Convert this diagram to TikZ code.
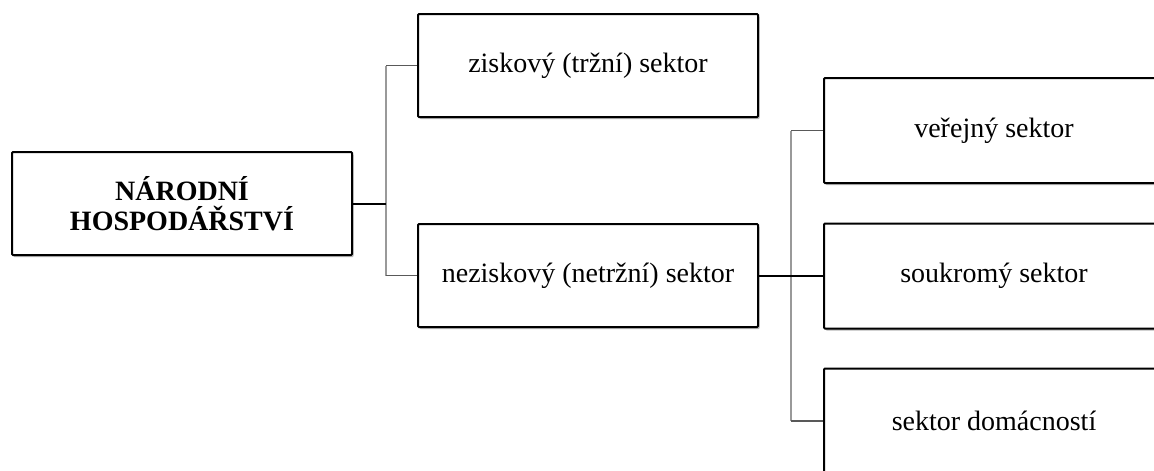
\documentclass[tikz,border=0pt]{standalone}
\usepackage{fontspec}
\setmainfont{Liberation Serif}
\usetikzlibrary{shadows}
\tikzset{
  box/.style={draw=black, line width=2pt, fill=white, rounded corners=1pt,
    minimum width=340pt, minimum height=103pt, inner sep=2pt, align=center,
    font=\fontsize{28}{30}\selectfont,
    drop shadow={shadow xshift=1.5pt, shadow yshift=-2pt, opacity=0.28, fill=black}},
  tall/.style={minimum height=105pt},
  trunk/.style={draw=black!40, line width=1.6pt},
  stub/.style={draw=black!65, line width=1.6pt},
  main/.style={draw=black, line width=2pt},
}
\begin{document}
\begin{tikzpicture}[x=1pt,y=-1pt]
\useasboundingbox (0,0) rectangle (1154,471);
\clip (0,0) rectangle (1154,471);
% nodes
\node[box, font=\fontsize{28}{30}\selectfont\bfseries] (nh) at (182,203.5) {NÁRODNÍ\\HOSPODÁŘSTVÍ};
\node[box] (zisk) at (588,65.5) {ziskový (tržní) sektor};
\node[box] (nezisk) at (588,275.5) {neziskový (netržní) sektor};
\node[box, tall] (verej) at (994,130.5) {veřejný sektor};
\node[box, tall] (soukr) at (994,276) {soukromý sektor};
\node[box, tall] (dom) at (994,421) {sektor domácností};
% junction coordinates
\coordinate (j1) at (386,203.5);
\coordinate (j2) at (791,276);
% connectors
\draw[trunk] (j1 |- zisk.west) -- (j1 |- nezisk.west);
\draw[trunk] (j2 |- verej.west) -- (j2 |- dom.west);
\draw[main] (nh.east) -- (j1);
\draw[stub] (j1 |- zisk.west) -- (zisk.west);
\draw[stub] (j1 |- nezisk.west) -- (nezisk.west);
\draw[main] (nezisk.east) -- (nezisk.east -| soukr.west);
\draw[stub] (j2 |- verej.west) -- (verej.west);
\draw[stub] (j2 |- dom.west) -- (dom.west);
\end{tikzpicture}
\end{document}
